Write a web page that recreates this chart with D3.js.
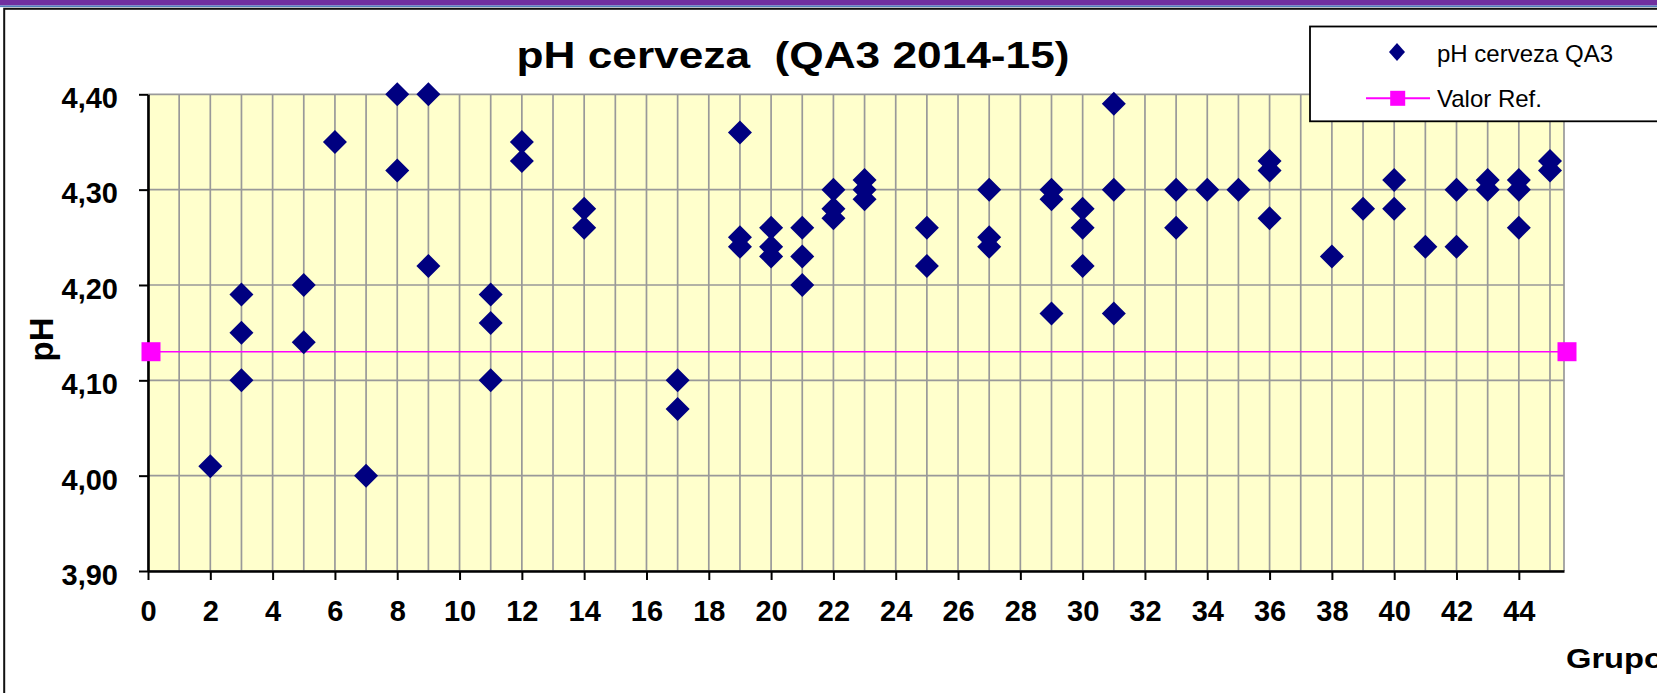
<!DOCTYPE html>
<html>
<head>
<meta charset="utf-8">
<script src="https://cdn.jsdelivr.net/npm/d3@7"></script>
<style>
  html, body { margin: 0; padding: 0; background: #fff; overflow: hidden; }
  text { font-family: "Liberation Sans", Arial, sans-serif; }
</style>
</head>
<body>
<div id="chart"></div>
<script>
// data
const grupo = [2,3,3,3,5,5,6,7,8,8,9,9,11,11,11,12,12,14,14,17,17,19,19,19,20,20,20,21,21,21,22,22,22,23,23,23,25,25,27,27,27,29,29,29,30,30,30,31,31,31,33,33,34,35,36,36,36,38,39,40,40,41,42,42,43,43,44,44,44,45,45];
const phCerveza = [4.01,4.19,4.15,4.10,4.20,4.14,4.35,4.00,4.40,4.32,4.40,4.22,4.19,4.16,4.10,4.35,4.33,4.28,4.26,4.10,4.07,4.36,4.25,4.24,4.26,4.24,4.23,4.26,4.23,4.20,4.30,4.28,4.27,4.31,4.30,4.29,4.26,4.22,4.30,4.25,4.24,4.30,4.29,4.17,4.28,4.26,4.22,4.39,4.30,4.17,4.30,4.26,4.30,4.30,4.33,4.32,4.27,4.23,4.28,4.31,4.28,4.24,4.30,4.24,4.31,4.30,4.31,4.30,4.26,4.33,4.32];
const refGrupo = [0, 45.45];
const refValor = [4.13, 4.13];
const xTicks = [0,2,4,6,8,10,12,14,16,18,20,22,24,26,28,30,32,34,36,38,40,42,44];
const yTicks = [3.9,4.0,4.1,4.2,4.3,4.4];
const xGrid = d3.range(0, 46);
const title = 'pH cerveza  (QA3 2014-15)';
const seriesNames = ['pH cerveza QA3', 'Valor Ref.'];

const W = 1657, H = 693;
const plot = {left: 148, right: 1564, top: 94.3, bottom: 571};

const svg = d3.select('#chart').append('svg')
  .attr('width', W)
  .attr('height', H);

// slide frame
svg.append('rect').attr('x', 0).attr('y', 0).attr('width', W).attr('height', 5.5).attr('fill', '#7030A0');
svg.append('rect').attr('x', 0).attr('y', 5.5).attr('width', W).attr('height', 1.6).attr('fill', '#4F81BD');
svg.append('rect')
  .attr('x', 4.2).attr('y', 8.8)
  .attr('width', W + 20).attr('height', H + 20)
  .attr('fill', '#fff').attr('stroke', '#111').attr('stroke-width', 2);

const x = d3.scaleLinear().domain([0, refGrupo[1]]).range([plot.left, plot.right]);
const y = d3.scaleLinear().domain([3.9, 4.4]).range([plot.bottom, plot.top]);

const fmt = d => d3.format('.2f')(d).replace('.', ',');

// plot area
svg.append('rect')
  .attr('x', plot.left).attr('y', plot.top)
  .attr('width', plot.right - plot.left).attr('height', plot.bottom - plot.top)
  .attr('fill', '#FFFFCC');

const grid = svg.append('g').attr('stroke', '#999').attr('stroke-width', 1.7);
grid.selectAll('.vg')
  .data(xGrid.concat([refGrupo[1]]))
  .enter().append('line')
  .attr('x1', d => x(d)).attr('x2', d => x(d))
  .attr('y1', plot.top).attr('y2', plot.bottom);
grid.selectAll('.hg')
  .data(yTicks)
  .enter().append('line')
  .attr('x1', plot.left).attr('x2', plot.right)
  .attr('y1', d => y(d)).attr('y2', d => y(d));

// axes
const xAxis = d3.axisBottom(x).tickValues(xTicks).tickFormat(d3.format('d'))
  .tickSize(9).tickSizeOuter(0).tickPadding(20);
const yAxis = d3.axisLeft(y).tickValues(yTicks).tickFormat(fmt)
  .tickSize(9).tickSizeOuter(0).tickPadding(21);

const gx = svg.append('g')
  .attr('transform', 'translate(0,' + plot.bottom + ')')
  .call(xAxis);
const gy = svg.append('g')
  .attr('transform', 'translate(' + plot.left + ',0)')
  .call(yAxis);

[gx, gy].forEach(g => {
  g.select('.domain').attr('stroke', '#000').attr('stroke-width', 2.6);
  g.selectAll('.tick line').attr('stroke', '#000').attr('stroke-width', 2);
  g.selectAll('.tick text')
    .attr('fill', '#000')
    .style('font-size', '29px')
    .style('font-weight', 'bold')
    .style('font-family', '"Liberation Sans", Arial, sans-serif');
});
gy.selectAll('.tick text').attr('dy', '0.46em');

// reference line
const refData = refGrupo.map((g, i) => ({g: g, v: refValor[i]}));
svg.append('path')
  .datum(refData)
  .attr('fill', 'none')
  .attr('stroke', '#FF00FF')
  .attr('stroke-width', 1.6)
  .attr('d', d3.line().x(d => x(d.g)).y(d => y(d.v)));
svg.selectAll('.refmark')
  .data(refData)
  .enter().append('rect')
  .attr('x', d => x(d.g) - 9.5 + 3)
  .attr('y', d => y(d.v) - 9.5)
  .attr('width', 19).attr('height', 19)
  .attr('fill', '#FF00FF');

// diamonds
let diamond = r => 'M0,' + (-r) + 'L' + r + ',0L0,' + r + 'L' + (-r) + ',0Z';
svg.selectAll('.pt')
  .data(grupo)
  .enter().append('path')
  .attr('class', 'pt')
  .attr('d', diamond(12))
  .attr('transform', (d, i) => 'translate(' + x(d) + ',' + y(phCerveza[i]) + ')')
  .attr('fill', '#000080');

// title (double space kept as in the original)
svg.append('text')
  .attr('x', 516.5).attr('y', 68.3)
  .attr('textLength', 553)
  .attr('lengthAdjust', 'spacingAndGlyphs')
  .style('white-space', 'pre')
  .style('font-size', '36px')
  .style('font-weight', 'bold')
  .text(title);

// axis titles
svg.append('text')
  .attr('transform', 'translate(53.3,339.5) rotate(-90)')
  .attr('text-anchor', 'middle')
  .style('font-size', '33px')
  .style('font-weight', 'bold')
  .text('pH');
svg.append('text')
  .attr('x', 1566).attr('y', 668.3)
  .attr('textLength', 98)
  .attr('lengthAdjust', 'spacingAndGlyphs')
  .style('font-size', '28px')
  .style('font-weight', 'bold')
  .text('Grupo');

// legend
const lg = svg.append('g');
lg.append('rect')
  .attr('x', 1310).attr('y', 26.5)
  .attr('width', 400).attr('height', 94.8)
  .attr('fill', '#fff').attr('stroke', '#000').attr('stroke-width', 1.8);
lg.append('path')
  .attr('d', 'M0,-9L8,0L0,9L-8,0Z')
  .attr('transform', 'translate(1397,52)')
  .attr('fill', '#000080');
lg.append('line')
  .attr('x1', 1366).attr('x2', 1430).attr('y1', 98.3).attr('y2', 98.3)
  .attr('stroke', '#FF00FF').attr('stroke-width', 2);
lg.append('rect')
  .attr('x', 1397.7 - 7.5).attr('y', 98.3 - 7.5)
  .attr('width', 15).attr('height', 15)
  .attr('fill', '#FF00FF');
lg.selectAll('.lt')
  .data(seriesNames)
  .enter().append('text')
  .attr('x', 1437)
  .attr('y', (d, i) => i === 0 ? 61.5 : 107.3)
  .style('font-size', '24px')
  .text(d => d);
</script>
</body>
</html>
